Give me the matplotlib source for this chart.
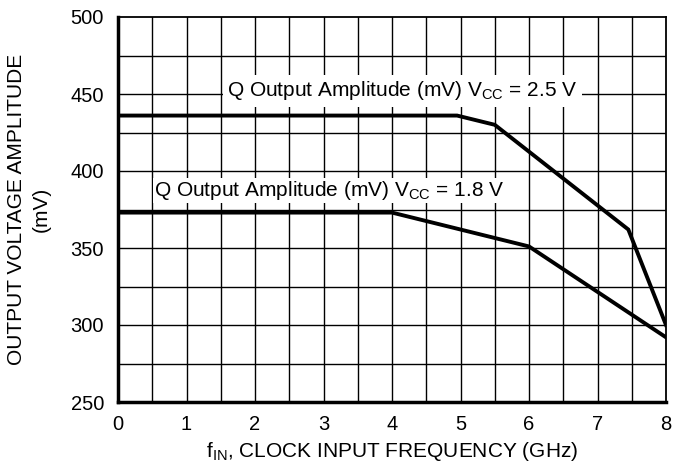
import matplotlib
matplotlib.use("Agg")
import matplotlib.pyplot as plt
import numpy as np

plt.rcParams['font.family'] = ['Liberation Sans', 'DejaVu Sans']

# Data
freq_25 = [0.0, 4.95, 5.5, 7.45, 8.0]
amp_25 = [436, 436, 430, 362, 300]
freq_18 = [0.0, 4.0, 6.0, 8.0]
amp_18 = [373, 373, 351, 292]

x_ticks = [0, 1, 2, 3, 4, 5, 6, 7, 8]
y_ticks = [250, 300, 350, 400, 450, 500]
label_25 = r"Q Output Amplitude (mV) V$_{\mathregular{CC}}$ = 2.5 V"
label_18 = r"Q Output Amplitude (mV) V$_{\mathregular{CC}}$ = 1.8 V"

fig = plt.figure(figsize=(6.77, 4.68), dpi=100)
ax = fig.add_axes([118/677, 1-402/468, (666-118)/677, (402-17)/468])

ax.set_xlim(0, 8)
ax.set_ylim(250, 500)

# grid
for xv in np.arange(0.5, 8, 0.5):
    ax.axvline(xv, color='black', lw=1.0, zorder=1)
for yv in np.arange(275, 500, 25):
    ax.axhline(yv, color='black', lw=1.0, zorder=1)

ax.plot(freq_25, amp_25, color='black', lw=2.8, zorder=4, solid_joinstyle='miter')
ax.plot(freq_18, amp_18, color='black', lw=2.8, zorder=4, solid_joinstyle='miter')

ax.text(4.15, 452, label_25, fontsize=15, ha='center', va='center', zorder=3,
        bbox=dict(facecolor='white', edgecolor='none', boxstyle='square,pad=0.2'))
ax.text(3.08, 387.5, label_18, fontsize=15, ha='center', va='center', zorder=3,
        bbox=dict(facecolor='white', edgecolor='none', boxstyle='square,pad=0.05'))

ax.set_xticks(x_ticks)
ax.set_yticks(y_ticks)
ax.tick_params(length=0, labelsize=14.5)
ax.tick_params(axis='x', pad=9)
ax.tick_params(axis='y', pad=10)

ax.spines['left'].set_linewidth(2.5)
ax.spines['bottom'].set_linewidth(2.5)
ax.spines['top'].set_linewidth(1.3)
ax.spines['right'].set_linewidth(1.3)
for s in ax.spines.values():
    s.set_zorder(5)

ax.set_xlabel(r"f$_{\mathregular{IN}}$, CLOCK INPUT FREQUENCY (GHz)", fontsize=15, labelpad=5)
ax.set_ylabel("OUTPUT VOLTAGE AMPLITUDE\n(mV)", fontsize=15, labelpad=14, linespacing=1.38)

fig.savefig("out.png", dpi=100)
